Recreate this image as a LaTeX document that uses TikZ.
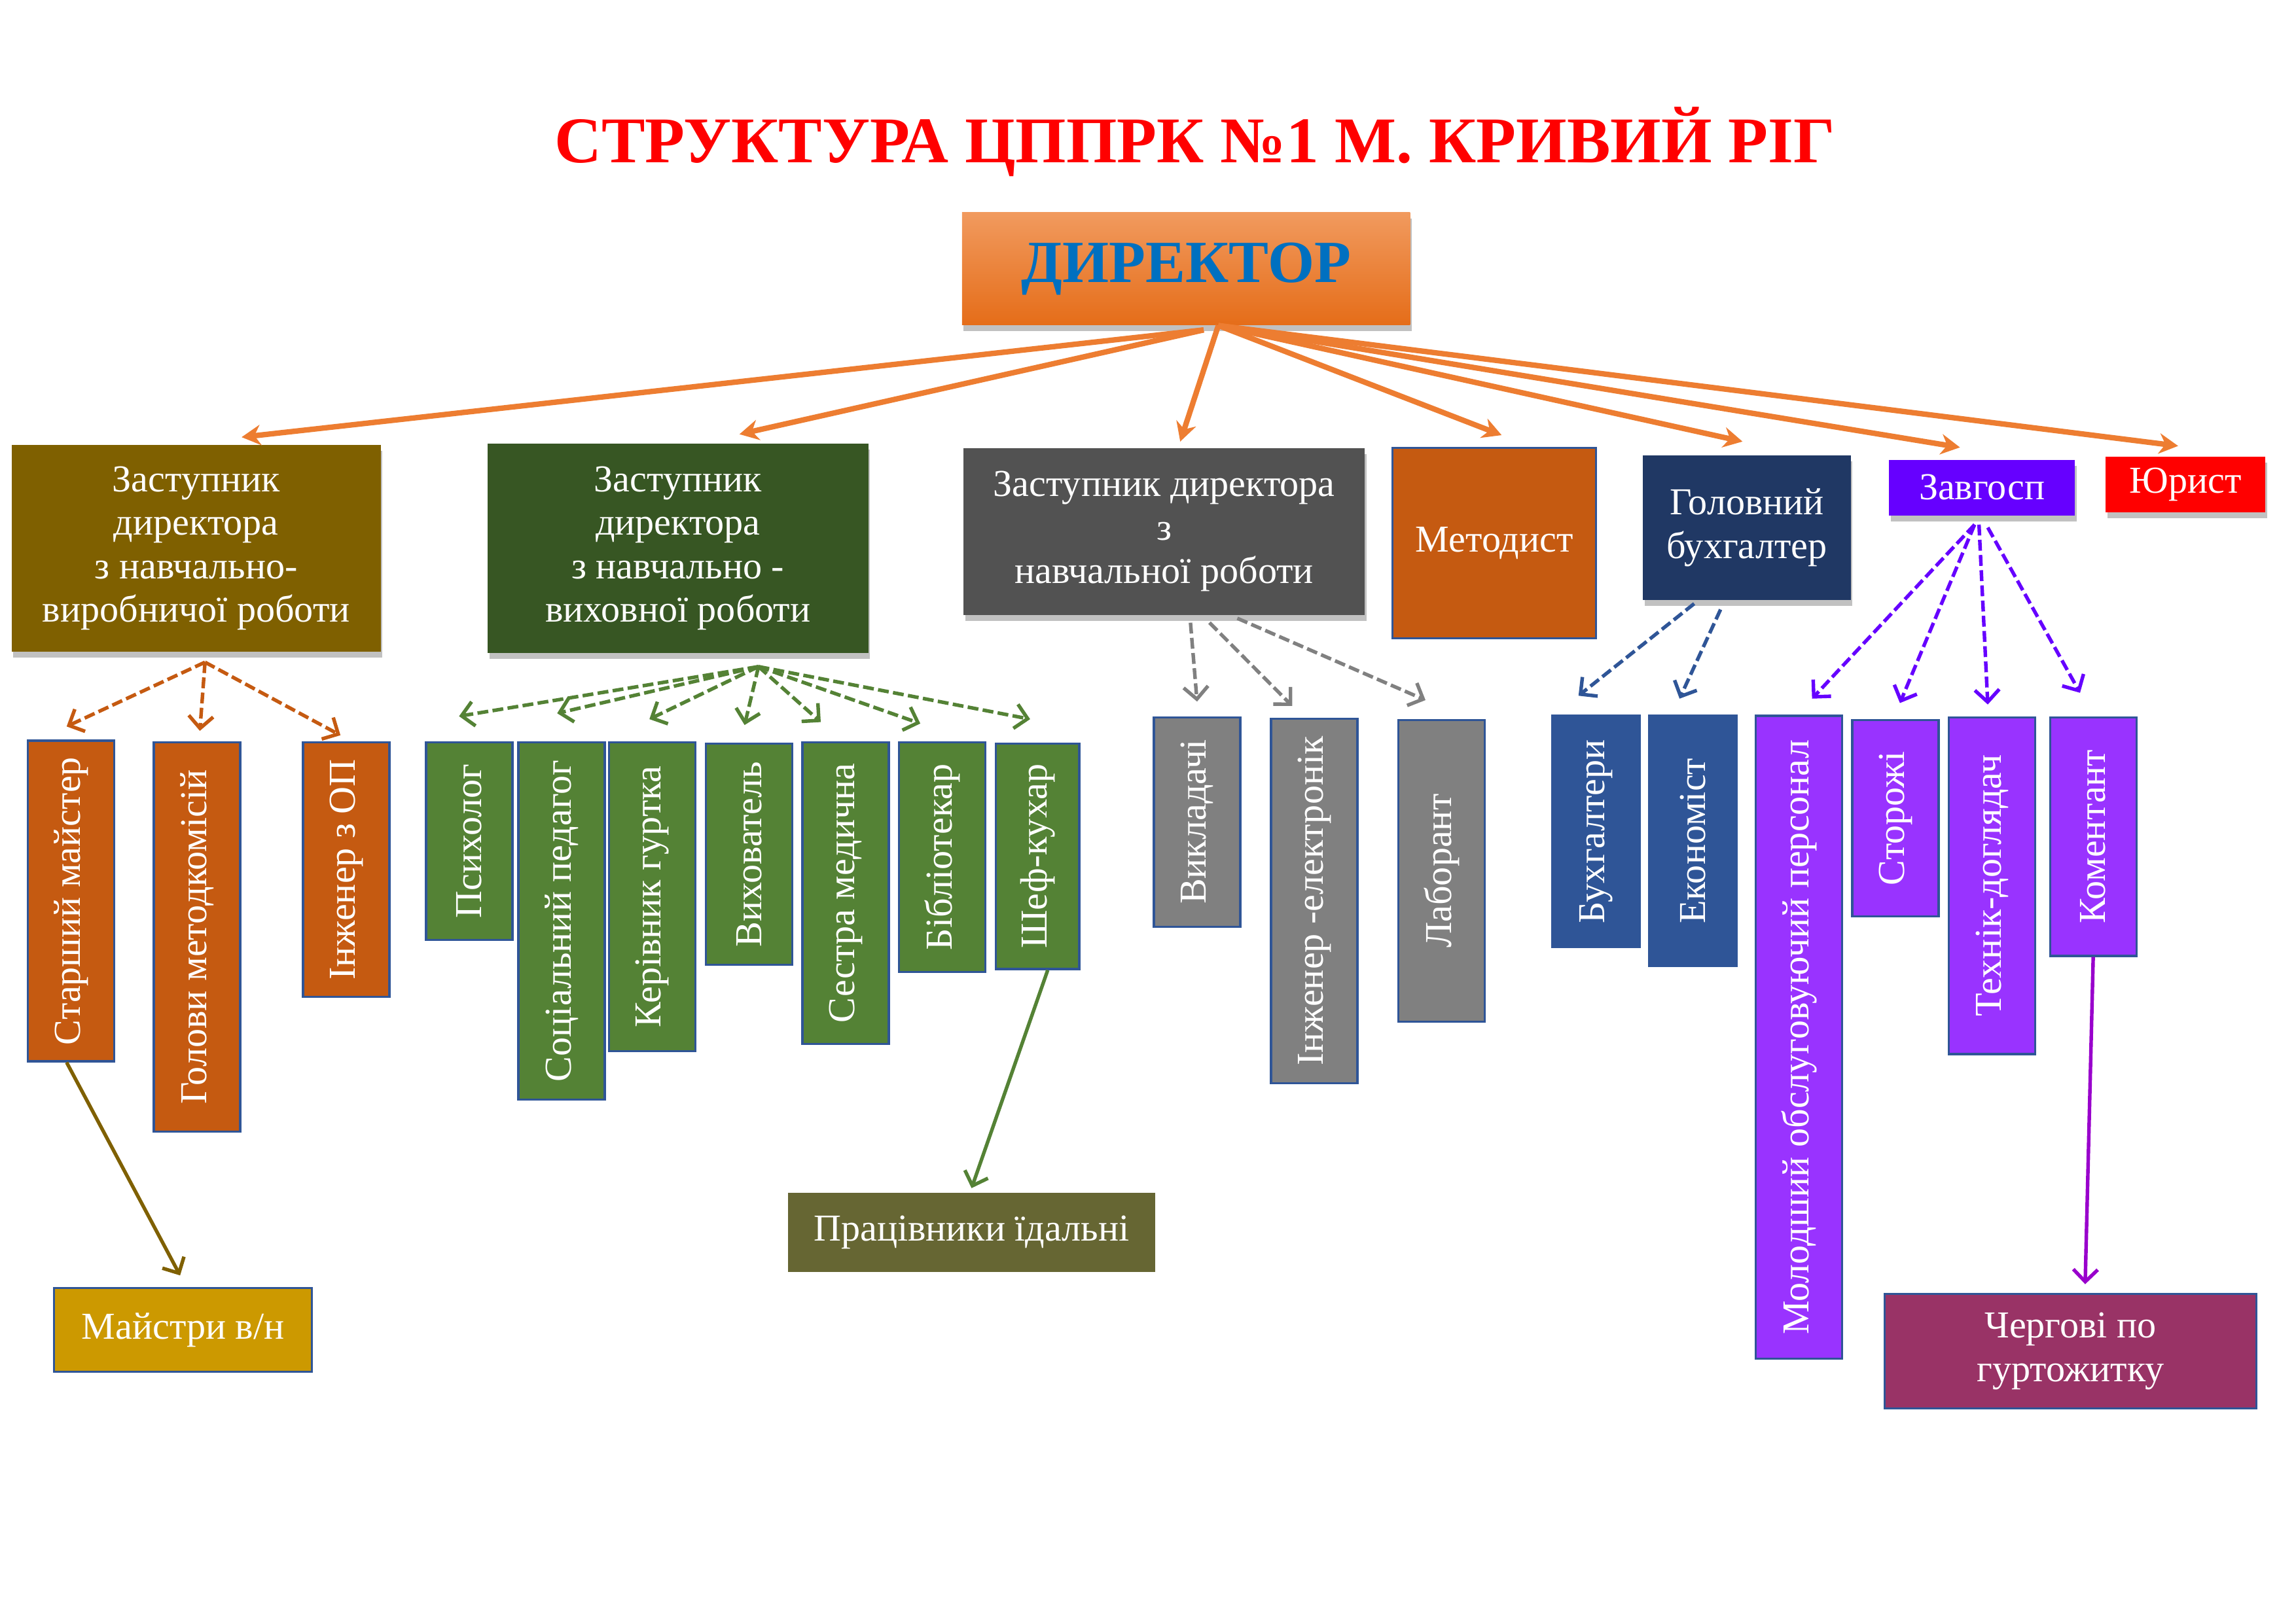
\documentclass[tikz,border=0pt]{standalone}
\usepackage{fontspec}
\setmainfont{Liberation Serif}
\usepackage{tikz}
\usetikzlibrary{arrows.meta,positioning,calc,shadows}
\definecolor{titlered}{HTML}{FF0000}
\definecolor{dirblue}{HTML}{0070C0}
\definecolor{dirtop}{HTML}{F19A5E}
\definecolor{dirbot}{HTML}{E56D19}
\definecolor{mainline}{HTML}{ED7D31}
\definecolor{edgeblue}{HTML}{2F5597}
\definecolor{zvpcol}{HTML}{7F6000}
\definecolor{zvvcol}{HTML}{375623}
\definecolor{znrcol}{HTML}{525252}
\definecolor{rustcol}{HTML}{C55A11}
\definecolor{navycol}{HTML}{203864}
\definecolor{violcol}{HTML}{6600FF}
\definecolor{greencol}{HTML}{548235}
\definecolor{graycol}{HTML}{808080}
\definecolor{lilaccol}{HTML}{9933FF}
\definecolor{goldcol}{HTML}{CC9900}
\definecolor{olivecol}{HTML}{666633}
\definecolor{plumcol}{HTML}{993366}
\definecolor{purpline}{HTML}{9900CC}
\newcommand{\boxfont}{\fontsize{14}{16}\selectfont}
\tikzset{
  sz/.style 2 args={minimum width=#1*0.018941cm, minimum height=#2*0.018941cm},
  topbox/.style={rectangle, align=center, text=white, font=\boxfont, inner sep=2pt,
    drop shadow={shadow xshift=0.6pt, shadow yshift=-2.2pt, opacity=0.4, fill=black!60}},
  vbox/.style={rectangle, rotate=90, text=white, font=\boxfont, inner sep=2pt, draw=edgeblue, line width=0.8pt},
  lowbox/.style={rectangle, align=center, text=white, font=\boxfont, inner sep=2pt},
  mainflow/.style={draw=mainline, line width=2pt, -{Stealth[length=7pt,width=7.5pt]}},
  subflow/.style={dash pattern=on 4pt off 1.6pt, line width=1.3pt, -{Straight Barb[length=4.5pt,width=9pt,line width=1.3pt]}},
  leadflow/.style={line width=1.3pt, -{Straight Barb[length=4.5pt,width=9pt,line width=1.3pt]}},
}
\begin{document}
\begin{tikzpicture}[x=0.018941cm, y=-0.018941cm]
  \path[use as bounding box, fill=white] (0,0) rectangle (1568,1109);
  \node[text=titlered, font=\fontsize{24}{28}\selectfont\bfseries] (title) at (816,97) {СТРУКТУРА ЦППРК №1 М. КРИВИЙ РІГ};
  \node[topbox, sz={306}{77}, top color=dirtop, bottom color=dirbot, text=dirblue, font=\fontsize{22}{26}\selectfont\bfseries] (dir) at (810,183.5) {ДИРЕКТОР};

  \node[topbox, sz={252}{141}, fill=zvpcol] (zvp) at (134,374.5) {Заступник\\директора\\з навчально-\\виробничої роботи};
  \node[topbox, sz={260}{143}, fill=zvvcol] (zvv) at (463,374.5) {Заступник\\директора\\з навчально -\\виховної роботи};
  \node[topbox, sz={274}{114}, fill=znrcol] (znr) at (795,363) {Заступник директора\\з\\навчальної роботи};
  \node[lowbox, sz={139}{130}, fill=rustcol, draw=edgeblue, line width=0.8pt] (metod) at (1020.5,371) {Методист};
  \node[topbox, sz={142}{99}, fill=navycol] (golbuh) at (1193,360.5) {Головний\\бухгалтер};
  \node[topbox, sz={127}{38}, fill=violcol] (zavgosp) at (1353.5,333) {Завгосп};
  \node[topbox, sz={109}{38}, fill=titlered] (yurist) at (1492.5,331) {Юрист};

  \node[vbox, sz={219}{59}, fill=rustcol] (stmaist) at (48.5,615.5) {Старший майстер};
  \node[vbox, sz={266}{59}, fill=rustcol] (metkom) at (134.5,640) {Голови методкомісій};
  \node[vbox, sz={174}{59}, fill=rustcol] (inzhop) at (236.5,594) {Інженер з ОП};

  \node[vbox, sz={135}{59}, fill=greencol] (psych) at (320.5,574.5) {Психолог};
  \node[vbox, sz={244}{59}, fill=greencol] (socped) at (383.5,629) {Соціальний педагог};
  \node[vbox, sz={211}{59}, fill=greencol] (kergurt) at (445.5,612.5) {Керівник гуртка};
  \node[vbox, sz={151}{59}, fill=greencol] (vyhov) at (511.5,583.5) {Вихователь};
  \node[vbox, sz={206}{59}, fill=greencol] (sestra) at (577.5,610) {Сестра медична};
  \node[vbox, sz={157}{59}, fill=greencol] (bibl) at (643.5,585.5) {Бібліотекар};
  \node[vbox, sz={154}{57}, fill=greencol] (shef) at (708.5,585) {Шеф-кухар};

  \node[vbox, sz={143}{59}, fill=graycol] (vykl) at (817.5,561.5) {Викладачі};
  \node[vbox, sz={249}{59}, fill=graycol] (inzhel) at (897.5,615.5) {Інженер -електронік};
  \node[vbox, sz={206}{59}, fill=graycol] (labor) at (984.5,595) {Лаборант};

  \node[vbox, sz={158}{60}, fill=edgeblue] (buhg) at (1090,568) {Бухгалтери};
  \node[vbox, sz={171}{60}, fill=edgeblue] (ekon) at (1156,574.5) {Економіст};

  \node[vbox, sz={439}{59}, fill=lilaccol] (molpers) at (1228.5,708.5) {Молодший обслуговуючий персонал};
  \node[vbox, sz={134}{59}, fill=lilaccol] (storozh) at (1294.5,559) {Сторожі};
  \node[vbox, sz={230}{59}, fill=lilaccol] (tehnik) at (1360.5,605) {Технік-доглядач};
  \node[vbox, sz={163}{59}, fill=lilaccol] (koment) at (1429.5,571.5) {Коментант};

  \node[lowbox, sz={176}{57}, fill=goldcol, draw=edgeblue, line width=0.8pt] (maistry) at (125,908.5) {Майстри в/н};
  \node[lowbox, sz={251}{54}, fill=olivecol] (pracid) at (663.5,842) {Працівники їдальні};
  \node[lowbox, sz={254}{78}, fill=plumcol, draw=edgeblue, line width=0.8pt] (chergovi) at (1414,923) {Чергові по\\гуртожитку};

  \draw[mainflow] ($(dir.south)+(12,3)$) -- ($(zvp.north)+(31,-5)$);
  \draw[mainflow] ($(dir.south)+(12,3)$) -- ($(zvv.north)+(42,-6)$);
  \draw[mainflow] ($(dir.south)+(22,0)$) -- ($(znr.north)+(11,-4)$);
  \draw[mainflow] ($(dir.south)+(22,0)$) -- ($(metod.north)+(5,-8)$);
  \draw[mainflow] ($(dir.south)+(22,0)$) -- ($(golbuh.north)+(-3,-9)$);
  \draw[mainflow] ($(dir.south)+(22,0)$) -- ($(zavgosp.north)+(-15,-8)$);
  \draw[mainflow] ($(dir.south)+(22,0)$) -- ($(yurist.north)+(-5,-7)$);

  \draw[subflow, draw=rustcol] ($(zvp.south)+(6,7)$) -- ($(stmaist.east)+(-3,-9)$);
  \draw[subflow, draw=rustcol] ($(zvp.south)+(6,7)$) -- ($(metkom.east)+(2,-7)$);
  \draw[subflow, draw=rustcol] ($(zvp.south)+(6,7)$) -- ($(inzhop.east)+(-4,-4)$);

  \draw[subflow, draw=greencol] ($(zvv.south)+(55,9)$) -- ($(psych.east)+(-7,-17)$);
  \draw[subflow, draw=greencol] ($(zvv.south)+(55,9)$) -- ($(socped.east)+(-3,-19)$);
  \draw[subflow, draw=greencol] ($(zvv.south)+(55,9)$) -- ($(kergurt.east)+(-2,-15)$);
  \draw[subflow, draw=greencol] ($(zvv.south)+(55,9)$) -- ($(vyhov.east)+(-3,-12)$);
  \draw[subflow, draw=greencol] ($(zvv.south)+(55,9)$) -- ($(sestra.east)+(-17,-13)$);
  \draw[subflow, draw=greencol] ($(zvv.south)+(55,9)$) -- ($(bibl.east)+(-15,-12)$);
  \draw[subflow, draw=greencol] ($(zvv.south)+(55,9)$) -- ($(shef.east)+(-5,-16)$);

  \draw[subflow, draw=graycol] ($(znr.south)+(18,5)$) -- ($(vykl.east)+(0,-10)$);
  \draw[subflow, draw=graycol] ($(znr.south)+(31,5)$) -- ($(inzhel.east)+(-15,-8)$);
  \draw[subflow, draw=graycol] ($(znr.south)+(50,2)$) -- ($(labor.east)+(-11,-13)$);

  \draw[subflow, draw=edgeblue] ($(golbuh.south)+(-36,2)$) -- ($(buhg.east)+(-12,-13)$);
  \draw[subflow, draw=edgeblue] ($(golbuh.south)+(-18,6)$) -- ($(ekon.east)+(-9,-11)$);

  \draw[subflow, draw=violcol] ($(zavgosp.south)+(-5,6)$) -- ($(molpers.east)+(9,-11)$);
  \draw[subflow, draw=violcol] ($(zavgosp.south)+(-5,6)$) -- ($(storozh.east)+(3,-11)$);
  \draw[subflow, draw=violcol] ($(zavgosp.south)+(-2,6)$) -- ($(tehnik.east)+(-3,-8)$);
  \draw[subflow, draw=violcol] ($(zavgosp.south)+(4,8)$) -- ($(koment.east)+(-9,-16)$);

  \draw[leadflow, draw=zvpcol] ($(stmaist.west)+(-3,0)$) -- ($(maistry.north)+(-2,-8)$);
  \draw[leadflow, draw=greencol] ($(shef.west)+(7,0)$) -- ($(pracid.north)+(0,-3)$);
  \draw[leadflow, draw=purpline] (koment.west) -- ($(chergovi.north)+(10,-6)$);
\end{tikzpicture}
\end{document}
